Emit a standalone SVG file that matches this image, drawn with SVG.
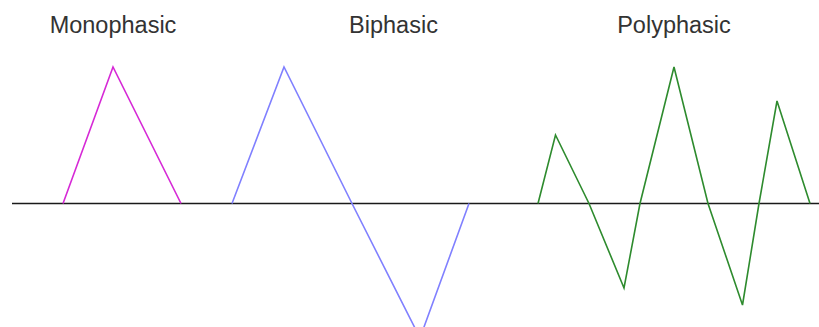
<svg xmlns="http://www.w3.org/2000/svg" width="819" height="327" viewBox="0 0 819 327">
<style>
.lbl{font-family:"Liberation Sans",Arial,sans-serif;font-size:23.5px;fill:#333333;text-anchor:middle}
.wave{fill:none;stroke-width:1.6;stroke-linejoin:miter}
</style>
<rect width="819" height="327" fill="#ffffff"/>
<g id="connectors">
<line x1="12" y1="203.5" x2="819" y2="203.5" stroke="#1a1a1a" stroke-width="1.6"/>
</g>
<g id="monophasic">
<text class="lbl" x="113" y="33">Monophasic</text>
<polyline class="wave" stroke="#d629d6" points="63,203.5 113,67 181,203.5"/>
</g>
<g id="biphasic">
<text class="lbl" x="393.5" y="33">Biphasic</text>
<polyline class="wave" stroke="#8080ff" points="232,203.5 284,67 352,203.5 420,338 469,203.5"/>
</g>
<g id="polyphasic">
<text class="lbl" x="674" y="33">Polyphasic</text>
<polyline class="wave" stroke="#2e8b2e" points="538,203.5 555.5,135 589,203.5 624,288 640,203.5 674,67 708,203.5 742.5,305 759,203.5 777,101 810,203.5"/>
</g>
</svg>
